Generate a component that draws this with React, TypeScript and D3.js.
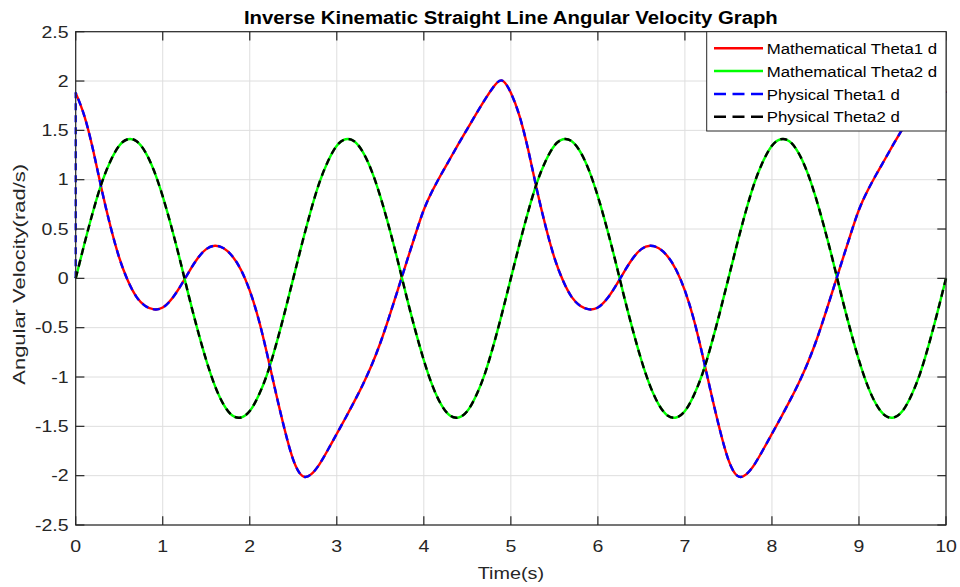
import React from "react";
import * as d3 from "d3";

const W = 960;
const H = 587;

const titleText = "Inverse Kinematic Straight Line Angular Velocity Graph";
const xLabelText = "Time(s)";
const yLabelText = "Angular Velocity(rad/s)";
const xTicks = [0, 1, 2, 3, 4, 5, 6, 7, 8, 9, 10];
const yTicks = [-2.5, -2, -1.5, -1, -0.5, 0, 0.5, 1, 1.5, 2, 2.5];
const seriesNames = ["Mathematical Theta1 d", "Mathematical Theta2 d", "Physical Theta1 d", "Physical Theta2 d"];
const seriesColors = ["#ff0000", "#00ff00", "#0000ff", "#000000"];
const seriesDashed = [false, false, true, true];

// sample times (s), 0.1 s apart
const time = d3.range(0, 101).map((i) => +(i * 0.1).toFixed(1));

// values (rad/s)
const mathTheta1 = [
  1.88, 1.645, 1.30, 0.895, 0.525, 0.21, -0.025, -0.19, -0.28, -0.314,
  -0.296, -0.213, -0.084, 0.064, 0.201, 0.296, 0.33, 0.305, 0.225, 0.085,
  -0.125, -0.41, -0.77, -1.16, -1.53, -1.84, -2.0, -1.99, -1.885, -1.735,
  -1.575, -1.415, -1.25, -1.075, -0.88, -0.655, -0.395, -0.12, 0.16, 0.435,
  0.695, 0.89, 1.055, 1.21, 1.365, 1.515, 1.665, 1.81, 1.94, 2.005,
  1.88, 1.645, 1.30, 0.895, 0.525, 0.21, -0.025, -0.19, -0.28, -0.314,
  -0.296, -0.213, -0.084, 0.064, 0.201, 0.296, 0.33, 0.305, 0.225, 0.085,
  -0.125, -0.41, -0.77, -1.16, -1.53, -1.84, -2.0, -1.99, -1.885, -1.735,
  -1.575, -1.415, -1.25, -1.075, -0.88, -0.655, -0.395, -0.12, 0.16, 0.435,
  0.695, 0.89, 1.055, 1.21, 1.365, 1.515, 1.665, 1.81, 1.94, 2.005,
  1.88,
];

const mathTheta2 = [
  0, 0.35, 0.68, 0.97, 1.19, 1.345, 1.41, 1.39, 1.28, 1.09,
  0.83, 0.52, 0.18, -0.18, -0.52, -0.83, -1.09, -1.28, -1.39, -1.41,
  -1.345, -1.19, -0.97, -0.68, -0.35,
  0, 0.35, 0.68, 0.97, 1.19, 1.345, 1.41, 1.39, 1.28, 1.09,
  0.83, 0.52, 0.18, -0.18, -0.52, -0.83, -1.09, -1.28, -1.39, -1.41,
  -1.345, -1.19, -0.97, -0.68, -0.35,
  0, 0.35, 0.68, 0.97, 1.19, 1.345, 1.41, 1.39, 1.28, 1.09,
  0.83, 0.52, 0.18, -0.18, -0.52, -0.83, -1.09, -1.28, -1.39, -1.41,
  -1.345, -1.19, -0.97, -0.68, -0.35,
  0, 0.35, 0.68, 0.97, 1.19, 1.345, 1.41, 1.39, 1.28, 1.09,
  0.83, 0.52, 0.18, -0.18, -0.52, -0.83, -1.09, -1.28, -1.39, -1.41,
  -1.345, -1.19, -0.97, -0.68, -0.35,
  0,
];

// physical signals: theta1 starts from rest (0) then jumps to the mathematical value
const physicalTheta1Start = 0;
const physicalTheta1 = mathTheta1;
const physicalTheta2 = mathTheta2;

const FONT = "'Liberation Sans', Arial, Helvetica, sans-serif";
const AX = "#262626";

export default function App() {
  const left = 75.7, right = 946, top = 31.7, bottom = 525;
  const x = d3.scaleLinear().domain([0, 10]).range([left, right]);
  const y = d3.scaleLinear().domain([-2.5, 2.5]).range([bottom, top]);

  const line = d3
    .line<[number, number]>()
    .x((d) => x(d[0]))
    .y((d) => y(d[1]))
    .curve(d3.curveNatural);

  const pts = (vals: number[]) => time.map((t, i) => [t, vals[i]] as [number, number]);

  const pMath1 = line(pts(mathTheta1)) || "";
  const pMath2 = line(pts(mathTheta2)) || "";
  const pPhys1 =
    `M${x(time[0])},${y(physicalTheta1Start)}` + (line(pts(physicalTheta1)) || "").replace(/^M/, "L");
  const pPhys2 = line(pts(physicalTheta2)) || "";
  const paths = [pMath1, pMath2, pPhys1, pPhys2];

  const tickLen = 8.7;
  const tickFs = 16;
  const tickSx = 1.22;

  const legX0 = 706.7, legX1 = 946, legY0 = 31.7, legY1 = 131;
  const legRows = [48.3, 71, 94, 116.7];

  return (
    <svg
      width={W}
      height={H}
      style={{ position: "absolute", left: 0, top: 0, background: "#fff" }}
      fontFamily={FONT}
    >
      <rect x={0} y={0} width={W} height={H} fill="#fff" />
      <rect x={left} y={top} width={right - left} height={bottom - top} fill="#fff" />
      {/* grid */}
      <g stroke="#dedede" strokeWidth={1}>
        {xTicks.map((t) => (
          <line key={"gx" + t} x1={x(t)} x2={x(t)} y1={top} y2={bottom} />
        ))}
        {yTicks.map((t) => (
          <line key={"gy" + t} x1={left} x2={right} y1={y(t)} y2={y(t)} />
        ))}
      </g>
      {/* data */}
      <g fill="none" strokeLinejoin="round">
        {paths.map((p, i) => (
          <path
            key={"s" + i}
            d={p}
            stroke={seriesColors[i]}
            strokeWidth={2.4}
            strokeDasharray={seriesDashed[i] ? "7,5" : undefined}
          />
        ))}
      </g>
      {/* axes box and ticks */}
      <rect x={left} y={top} width={right - left} height={bottom - top} fill="none" stroke={AX} strokeWidth={1.2} />
      <g stroke={AX} strokeWidth={1.2}>
        {xTicks.map((t) => (
          <g key={"tx" + t}>
            <line x1={x(t)} x2={x(t)} y1={bottom} y2={bottom - tickLen} />
            <line x1={x(t)} x2={x(t)} y1={top} y2={top + tickLen} />
          </g>
        ))}
        {yTicks.map((t) => (
          <g key={"ty" + t}>
            <line x1={left} x2={left + tickLen} y1={y(t)} y2={y(t)} />
            <line x1={right} x2={right - tickLen} y1={y(t)} y2={y(t)} />
          </g>
        ))}
      </g>
      {/* tick labels */}
      <g fill={AX} fontSize={tickFs}>
        {xTicks.map((t) => (
          <text key={"lx" + t} textAnchor="middle" transform={`translate(${x(t)},${551.5}) scale(${tickSx},1)`}>
            {String(t)}
          </text>
        ))}
        {yTicks.map((t) => (
          <text key={"ly" + t} textAnchor="end" transform={`translate(${68.5},${y(t) + 5.8}) scale(${tickSx},1)`}>
            {String(t)}
          </text>
        ))}
      </g>
      {/* axis labels */}
      <text fill={AX} fontSize={16.5} textAnchor="middle" transform={`translate(${(left + right) / 2},${579}) scale(1.2,1)`}>
        {xLabelText}
      </text>
      <text fill={AX} fontSize={16.5} textAnchor="middle" transform={`translate(${25},${(top + bottom) / 2 - 4}) rotate(-90) scale(1.33,1)`}>
        {yLabelText}
      </text>
      {/* title */}
      <text fill="#000" fontSize={18.5} fontWeight="bold" textAnchor="middle" transform={`translate(${(left + right) / 2},${24}) scale(1.1,1)`}>
        {titleText}
      </text>
      {/* legend */}
      <rect x={legX0} y={legY0} width={legX1 - legX0} height={legY1 - legY0} fill="#fff" stroke={AX} strokeWidth={1} />
      {seriesNames.map((n, i) => (
        <g key={"lg" + i}>
          <line
            x1={714}
            x2={763}
            y1={legRows[i]}
            y2={legRows[i]}
            stroke={seriesColors[i]}
            strokeWidth={2.4}
            strokeDasharray={seriesDashed[i] ? "12,6.5" : undefined}
          />
          <text fill="#000" fontSize={15} transform={`translate(${766.7},${legRows[i] + 5.5}) scale(1.12,1)`}>
            {n}
          </text>
        </g>
      ))}
    </svg>
  );
}
